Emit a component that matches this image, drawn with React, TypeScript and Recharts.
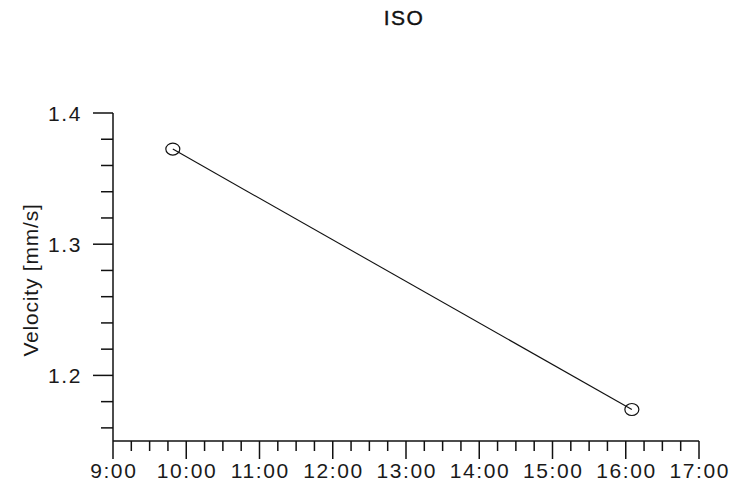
import { LineChart, Line, XAxis, YAxis } from "recharts"

const FONT = "'Liberation Sans', Arial, sans-serif"

const times = ["09:49", "16:05"]
const velocities = [1.3725, 1.174]

const xTicks = [
  9, 9.25, 9.5, 9.75, 10, 10.25, 10.5, 10.75, 11, 11.25, 11.5, 11.75,
  12, 12.25, 12.5, 12.75, 13, 13.25, 13.5, 13.75, 14, 14.25, 14.5, 14.75,
  15, 15.25, 15.5, 15.75, 16, 16.25, 16.5, 16.75, 17,
]
const yTicks = [1.16, 1.18, 1.2, 1.22, 1.24, 1.26, 1.28, 1.3, 1.32, 1.34, 1.36, 1.38, 1.4]

const toHours = (s: string) => {
  const [h, m] = s.split(":").map(Number)
  return h + m / 60
}

const data = times.map((t, i) => ({ t: toHours(t), v: velocities[i] }))

const textStyle = { fontSize: 21, fill: "#1a1a1a", fontFamily: FONT, letterSpacing: 1.6 }

// ─── Ticks ────────────────────────────────────────────────────────────────────

function XTick({ x, y, payload }: any) {
  const val = payload.value as number
  const major = Math.abs(val - Math.round(val)) < 1e-6
  return (
    <g>
      <line x1={x} x2={x} y1={y} y2={y + (major ? 18 : 10)} stroke="#111" strokeWidth={1.5} />
      {major && (
        <text x={x + 0.8} y={y + 37} textAnchor="middle" {...textStyle}>
          {`${Math.round(val)}:00`}
        </text>
      )}
    </g>
  )
}

function YTick({ x, y, payload }: any) {
  const val = payload.value as number
  const major = Math.abs(val * 10 - Math.round(val * 10)) < 1e-6
  return (
    <g>
      <line x1={x} x2={x - (major ? 20 : 12)} y1={y} y2={y} stroke="#111" strokeWidth={1.5} />
      {major && (
        <text x={x - 31} y={y + 7.5} textAnchor="end" {...textStyle}>
          {val.toFixed(1)}
        </text>
      )}
    </g>
  )
}

function YLabel() {
  return (
    <text x={38} y={280} transform="rotate(-90, 38, 280)" textAnchor="middle" {...textStyle}
      letterSpacing={0.8}>
      Velocity [mm/s]
    </text>
  )
}

function RingDot({ cx, cy }: any) {
  return <ellipse cx={cx} cy={cy} rx={7} ry={6} stroke="#111" strokeWidth={1.2} fill="none" />
}

export default function App() {
  return (
    <div style={{ position: "absolute", left: 0, top: 0, width: 730, height: 483, background: "#fff" }}>
      <div style={{
        position: "absolute", left: 354, top: 7, width: 100, textAlign: "center",
        fontFamily: FONT, fontSize: 21, lineHeight: "21px", color: "#111",
        letterSpacing: 1.5, WebkitTextStroke: "0.4px #111",
      }}>
        ISO
      </div>
      <LineChart width={730} height={483} data={data} margin={{ top: 113, right: 31, left: 0, bottom: 0 }}>
        <XAxis dataKey="t" type="number" domain={[9, 17]} ticks={xTicks} interval={0}
          height={42} tickSize={0} tickMargin={0} tick={<XTick />}
          axisLine={{ stroke: "#111", strokeWidth: 1.5 }} allowDataOverflow />
        <YAxis type="number" domain={[1.15, 1.4]} ticks={yTicks} interval={0}
          width={113} tickSize={0} tickMargin={0} tick={<YTick />}
          axisLine={{ stroke: "#111", strokeWidth: 1.5 }} allowDataOverflow
          label={<YLabel />} />
        <Line dataKey="v" stroke="#111" strokeWidth={1.1} isAnimationActive={false}
          dot={<RingDot />} />
      </LineChart>
    </div>
  )
}
